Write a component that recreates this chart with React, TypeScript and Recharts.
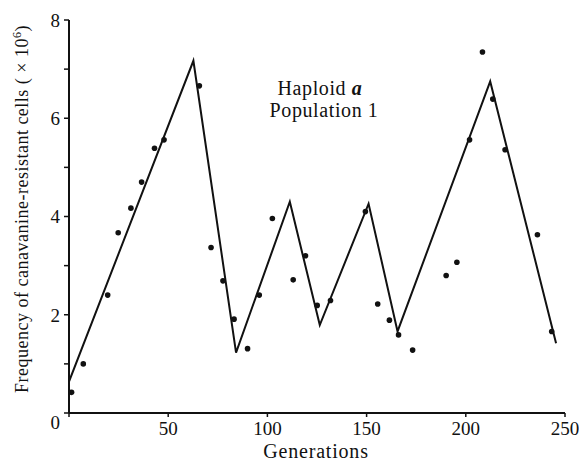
import React from 'react';
import { ComposedChart, Line, Scatter, XAxis, YAxis, Customized } from 'recharts';

// Fitted line (generation, frequency x10^6)
const lineGen = [0, 62.7, 84.2, 111.3, 126.4, 151, 165.6, 212.3, 245.5];
const lineVal = [0.64, 7.17, 1.23, 4.3, 1.79, 4.26, 1.66, 6.75, 1.42];

// Observed points
const dotGen = [1.3, 7.2, 19.5, 24.8, 31.2, 36.6, 43.1, 47.9, 65.7, 71.6, 77.6, 83.2, 90.0, 95.9, 102.5, 113, 119.2, 125.1, 131.8, 149.4, 155.6, 161.5, 166.1, 173.2, 190.1, 195.5, 201.9, 208.4, 213.6, 219.8, 236.1, 243.3];
const dotVal = [0.42, 1.0, 2.4, 3.67, 4.17, 4.7, 5.39, 5.56, 6.66, 3.37, 2.69, 1.91, 1.31, 2.4, 3.96, 2.71, 3.2, 2.19, 2.29, 4.1, 2.22, 1.89, 1.59, 1.28, 2.8, 3.07, 5.56, 7.35, 6.39, 5.36, 3.63, 1.66];

const xTicks = [0, 50, 100, 150, 200, 250];
const yTicks = [0, 1, 2, 3, 4, 5, 6, 7, 8];

const xLabel = 'Generations';
const yLabel = 'Frequency of canavanine-resistant cells';
const annot1 = 'Haploid ';
const annot1b = 'a';
const annot2 = 'Population 1';

const lineData = lineGen.map((g, i) => ({ x: g, y: lineVal[i] }));
const dotData = dotGen.map((g, i) => ({ x: g, y: dotVal[i] }));

const FONT = '"Liberation Serif", "Times New Roman", serif';

const YTick = (props: any) => {
  const { x, y, payload } = props;
  const v = payload.value;
  if (v % 2 !== 0) return null;
  return (
    <text x={x} y={y + (v === 0 ? 9 : 0)} dy="0.36em" textAnchor="end" fontFamily={FONT} fontSize={19} fill="#111">
      {v}
    </text>
  );
};

const XTick = (props: any) => {
  const { x, y, payload } = props;
  const v = payload.value;
  if (v === 0) return null;
  return (
    <text x={x} y={y} dy="0.71em" textAnchor="middle" fontFamily={FONT} fontSize={19} fill="#111">
      {v}
    </text>
  );
};

const Annotations = () => (
  <g fontFamily={FONT} fill="#111">
    <text x={320} y={95} textAnchor="middle" fontSize={20} letterSpacing={0.6}>
      {annot1}
      <tspan fontStyle="italic" fontWeight="bold">{annot1b}</tspan>
    </text>
    <text x={324} y={117} textAnchor="middle" fontSize={20} letterSpacing={0.6}>
      {annot2}
    </text>
    <text x={316} y={458} textAnchor="middle" fontSize={20} letterSpacing={0.8}>
      {xLabel}
    </text>
    <text x={28} y={209} textAnchor="middle" fontSize={18} letterSpacing={0.5} transform="rotate(-90 28 209)">
      {yLabel}
      <tspan>{'  ( × 10'}</tspan>
      <tspan dy={-7} fontSize={12}>6</tspan>
      <tspan dy={7}>)</tspan>
    </text>
  </g>
);

export default function App() {
  return (
    <div style={{ position: 'absolute', left: 0, top: 0, width: 579, height: 471, background: '#fff' }}>
      <ComposedChart width={579} height={471} margin={{ top: 20, right: 14, bottom: 0, left: 0 }}>
        <XAxis
          type="number"
          dataKey="x"
          domain={[0, 250]}
          ticks={xTicks}
          allowDataOverflow
          height={58}
          tickSize={4}
          tickMargin={5}
          tick={<XTick />}
          axisLine={{ stroke: '#111', strokeWidth: 2 }}
          tickLine={{ stroke: '#111', strokeWidth: 1.5 }}
        />
        <YAxis
          type="number"
          dataKey="y"
          domain={[0, 8]}
          ticks={yTicks}
          allowDataOverflow
          width={69}
          tickSize={5}
          tickMargin={4}
          tick={<YTick />}
          axisLine={{ stroke: '#111', strokeWidth: 2 }}
          tickLine={{ stroke: '#111', strokeWidth: 1.5 }}
        />
        <Line
          data={lineData}
          dataKey="y"
          type="linear"
          stroke="#111"
          strokeWidth={2}
          dot={false}
          activeDot={false}
          isAnimationActive={false}
        />
        <Scatter
          data={dotData}
          dataKey="y"
          fill="#111"
          shape={(p: any) => <circle cx={p.cx} cy={p.cy} r={2.8} fill="#111" />}
          isAnimationActive={false}
        />
        <Customized component={Annotations} />
      </ComposedChart>
    </div>
  );
}
